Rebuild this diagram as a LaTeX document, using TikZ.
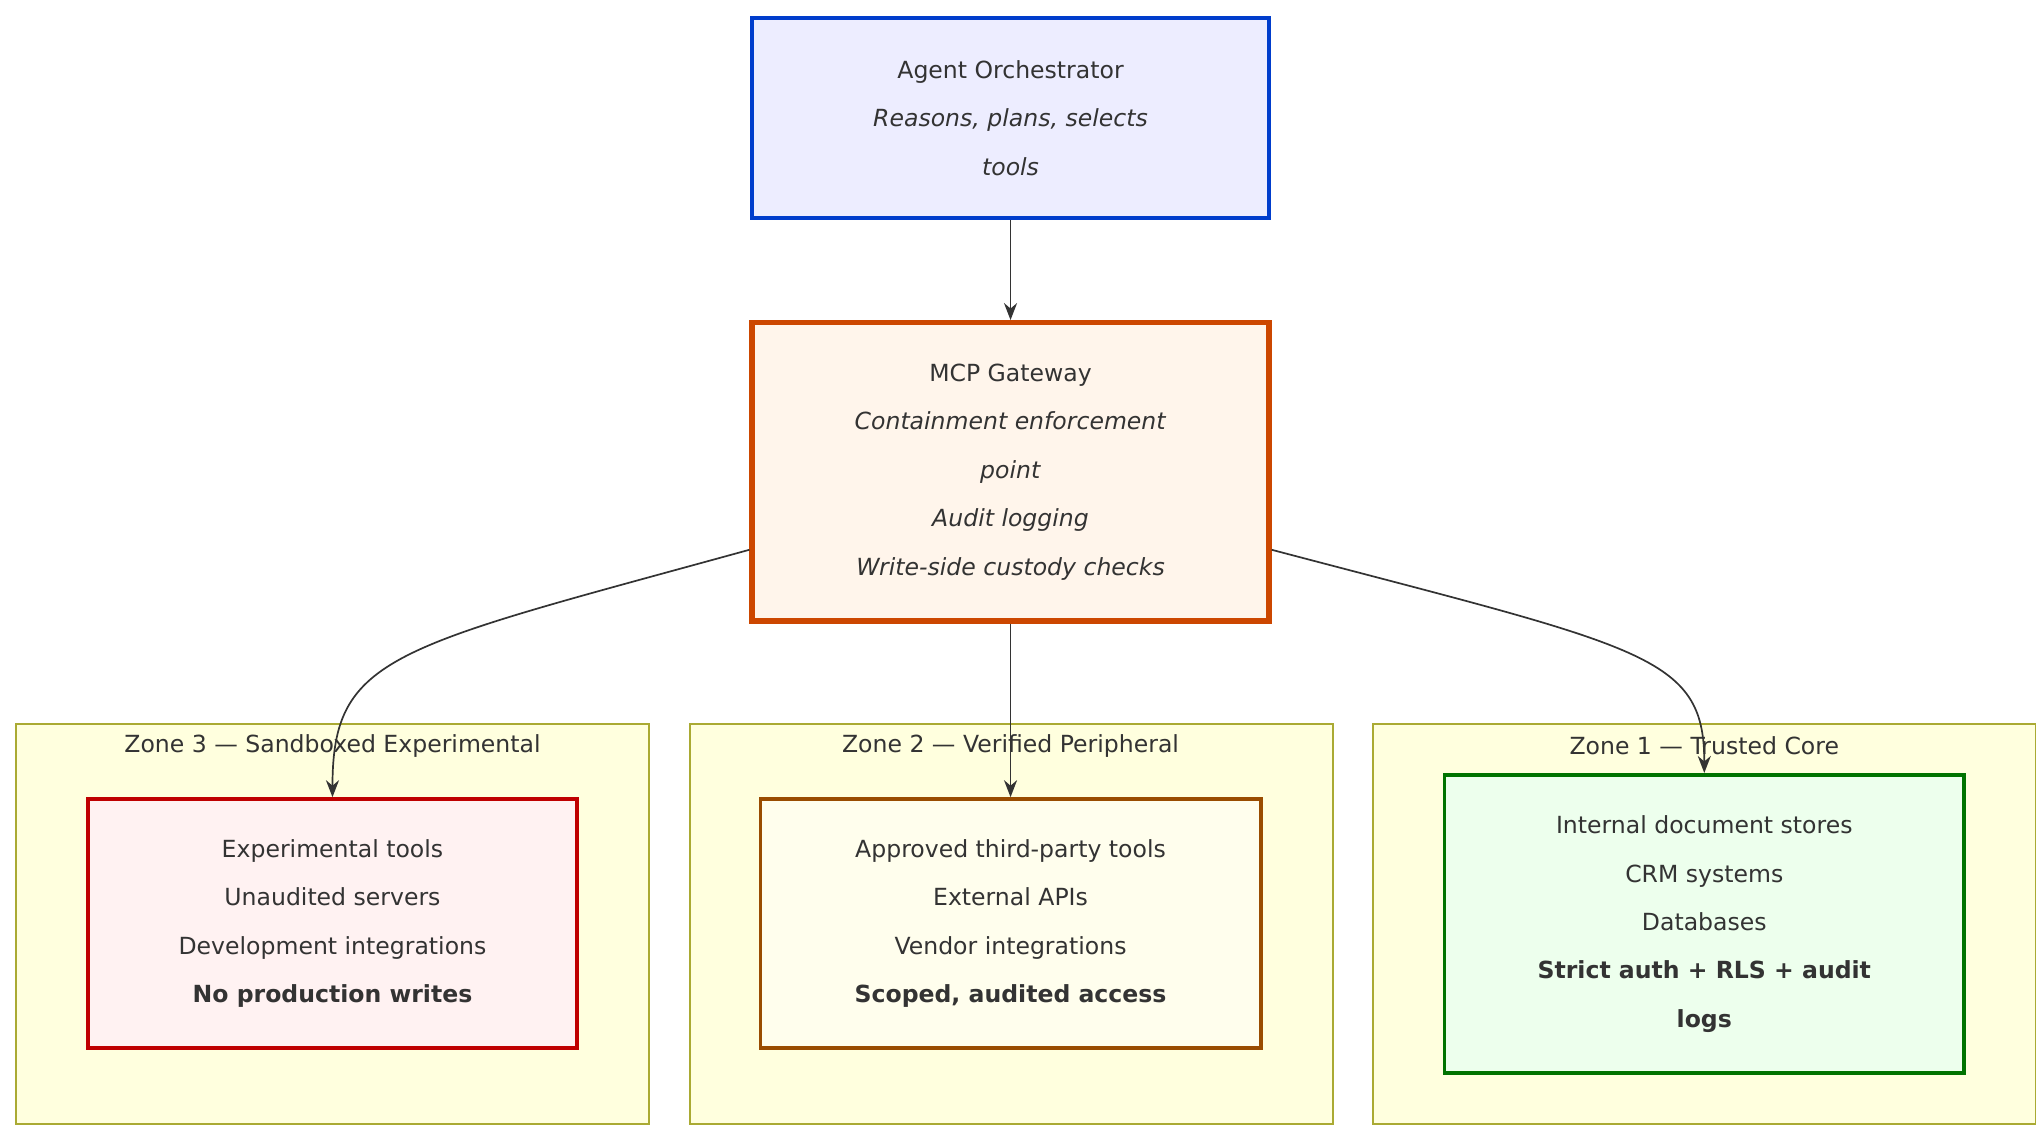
\documentclass[tikz,border=0pt]{standalone}
\usepackage{fontspec}
\setmainfont{DejaVu Sans}
\usetikzlibrary{calc,arrows.meta}
\definecolor{ink}{HTML}{333333}
\definecolor{zonefill}{HTML}{FFFFDE}
\definecolor{zoneline}{HTML}{AAAA33}
\tikzset{
  box/.style={draw, line width=3pt, align=center, text=ink, font=\fontsize{18}{37}\selectfont},
  zone/.style={draw=zoneline, fill=zonefill, line width=1.5pt},
  ztitle/.style={text=ink, font=\fontsize{18}{22}\selectfont},
  link/.style={draw=ink, line width=1.3pt, -{Stealth[length=13pt,width=10pt]}}
}
\begin{document}
\begin{tikzpicture}[x=1pt,y=-1pt]
  \useasboundingbox (0,0) rectangle (1560,867);
  % zones
  \draw[zone] (12,553) rectangle (496,859);
  \draw[zone] (527,553) rectangle (1018,859);
  \draw[zone] (1049,553) rectangle (1555,859);
  \node[ztitle] (t3) at (254,570) {Zone 3 — Sandboxed Experimental};
  \node[ztitle] (t2) at (772,570) {Zone 2 — Verified Peripheral};
  \node[ztitle] (t1) at (1302,570) {Zone 1 — Trusted Core};
  % top nodes
  \node[box, draw=blue!70!cyan!80!black, fill=blue!7, minimum width=395pt, minimum height=153pt] (orch) at (772,90)
    {Agent Orchestrator\\ \textit{Reasons, plans, selects}\\ \textit{tools}};
  \node[box, line width=4pt, draw=orange!70!red!80!black, fill=orange!8, minimum width=395pt, minimum height=228pt] (gw) at (772,360.5)
    {MCP Gateway\\ \textit{Containment enforcement}\\ \textit{point}\\ \textit{Audit logging}\\ \textit{Write-side custody checks}};
  % zone nodes
  \node[box, draw=red!75!black, fill=red!5, minimum width=373pt, minimum height=190pt] (exp) at (254,705.5)
    {Experimental tools\\ Unaudited servers\\ Development integrations\\ \textbf{No production writes}};
  \node[box, draw=orange!60!black, fill=yellow!7, minimum width=382pt, minimum height=190pt] (ver) at (772,705.5)
    {Approved third-party tools\\ External APIs\\ Vendor integrations\\ \textbf{Scoped, audited access}};
  \node[box, draw=green!45!black, fill=green!7, minimum width=397pt, minimum height=228pt] (core) at (1302,706)
    {Internal document stores\\ CRM systems\\ Databases\\ \textbf{Strict auth + RLS + audit}\\ \textbf{logs}};
  % links
  \draw[link] (orch) -- (gw);
  \draw[link] (gw) -- (ver);
  \draw[link] ($(gw.west)+(0,59.5)$) .. controls (300,495) and (254,500) .. (exp.north);
  \draw[link] ($(gw.east)+(0,59.5)$) .. controls (1256,495) and (1302,500) .. (core.north);
\end{tikzpicture}
\end{document}
